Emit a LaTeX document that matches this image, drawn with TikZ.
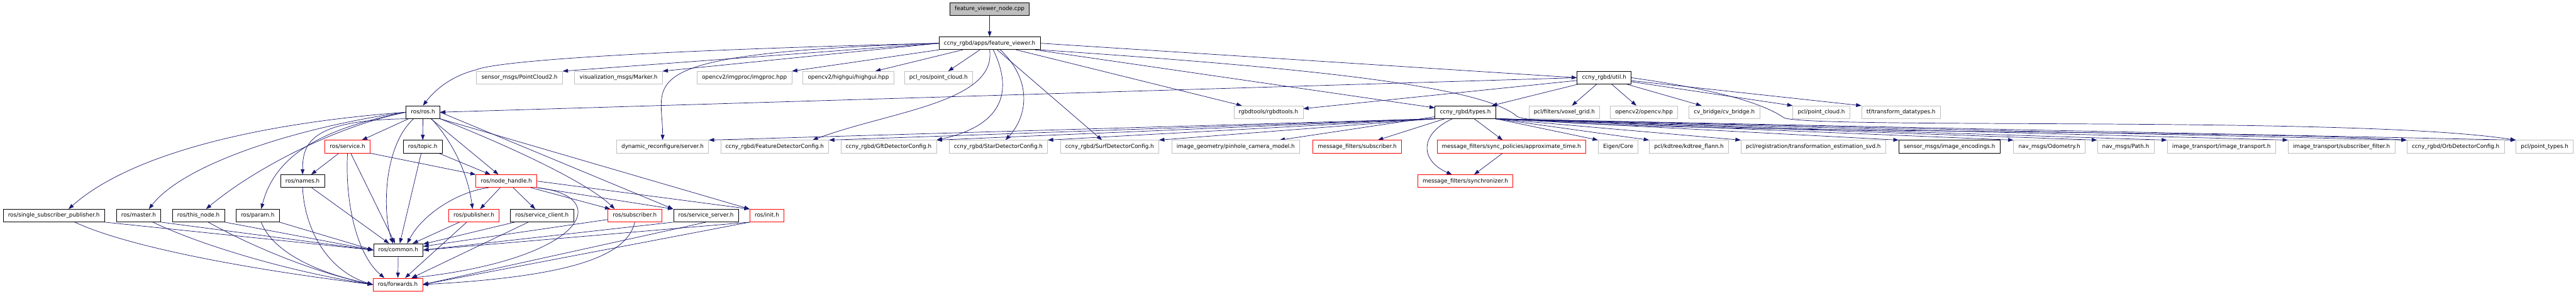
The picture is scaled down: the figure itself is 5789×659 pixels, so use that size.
\documentclass[tikz,border=0pt]{standalone}
\usepackage{fontspec}
\setmainfont{DejaVu Sans}
\usepackage{tikz}
\usetikzlibrary{arrows.meta,calc,backgrounds}

\definecolor{edgeblue}{RGB}{25,25,112}
\definecolor{extgray}{RGB}{191,191,191}
\definecolor{cutred}{RGB}{255,0,0}

\begin{document}
\begin{tikzpicture}[
  x=1pt, y=-1pt,
  box/.style={rectangle, draw, fill=white, line width=1pt, inner xsep=11pt, inner ysep=0pt,
    minimum height=28.5pt, text height=9.3pt, text depth=2.6pt,
    font=\fontsize{12.45}{14}\selectfont},
  srcfile/.style={box, draw=black, fill=extgray},
  hdr/.style={box, draw=black},
  exthdr/.style={box, draw=extgray},
  cuthdr/.style={box, draw=cutred},
  dep/.style={draw=edgeblue, line width=1pt, -{Triangle[length=12pt,width=8.5pt]}, fill=none}
]
  \useasboundingbox (0,0) rectangle (5789,659);

  % row 0 and 1
  \node[srcfile] (root) at (2224,19.7) {feature\_viewer\_node.cpp};
  \node[hdr] (fvh) at (2224,97.1) {ccny\_rgbd/apps/feature\_viewer.h};

  % row 2
  \node[exthdr] (pc2) at (1167.5,174.5) {sensor\_msgs/PointCloud2.h};
  \node[exthdr] (marker) at (1390,174.5) {visualization\_msgs/Marker.h};
  \node[exthdr] (imgproc) at (1673,174.5) {opencv2/imgproc/imgproc.hpp};
  \node[exthdr] (highgui) at (1906.5,174.5) {opencv2/highgui/highgui.hpp};
  \node[exthdr] (pclros) at (2109,174.5) {pcl\_ros/point\_cloud.h};
  \node[hdr] (util) at (3605,174.5) {ccny\_rgbd/util.h};

  % row 3
  \node[hdr] (ros) at (950.5,251.9) {ros/ros.h};
  \node[exthdr] (rgbdtools) at (2850.5,251.9) {rgbdtools/rgbdtools.h};
  \node[hdr] (types) at (3293,251.9) {ccny\_rgbd/types.h};
  \node[exthdr] (voxel) at (3515.5,251.9) {pcl/filters/voxel\_grid.h};
  \node[exthdr] (opencv) at (3694.5,251.9) {opencv2/opencv.hpp};
  \node[exthdr] (cvbridge) at (3875,251.9) {cv\_bridge/cv\_bridge.h};
  \node[exthdr] (pclcloud) at (4093,251.9) {pcl/point\_cloud.h};
  \node[exthdr] (tfdt) at (4272,251.9) {tf/transform\_datatypes.h};

  % row 4
  \node[cuthdr] (service) at (781,329.2) {ros/service.h};
  \node[hdr] (topic) at (950,329.2) {ros/topic.h};
  \node[exthdr] (dynrec) at (1489,329.2) {dynamic\_reconfigure/server.h};
  \node[exthdr] (featcfg) at (1741,329.2) {ccny\_rgbd/FeatureDetectorConfig.h};
  \node[exthdr] (gftcfg) at (1997,329.2) {ccny\_rgbd/GftDetectorConfig.h};
  \node[exthdr] (starcfg) at (2243.5,329.2) {ccny\_rgbd/StarDetectorConfig.h};
  \node[exthdr] (surfcfg) at (2493.5,329.2) {ccny\_rgbd/SurfDetectorConfig.h};
  \node[exthdr] (pinhole) at (2777,329.2) {image\_geometry/pinhole\_camera\_model.h};
  \node[cuthdr] (mfsub) at (3050,329.2) {message\_filters/subscriber.h};
  \node[cuthdr] (approx) at (3396.5,329.2) {message\_filters/sync\_policies/approximate\_time.h};
  \node[exthdr] (eigen) at (3636.5,329.2) {Eigen/Core};
  \node[exthdr] (kdtree) at (3795.5,329.2) {pcl/kdtree/kdtree\_flann.h};
  \node[exthdr] (svd) at (4075,329.2) {pcl/registration/transformation\_estimation\_svd.h};
  \node[hdr] (imgenc) at (4381,329.2) {sensor\_msgs/image\_encodings.h};
  \node[exthdr] (odom) at (4605.5,329.2) {nav\_msgs/Odometry.h};
  \node[exthdr] (navpath) at (4777,329.2) {nav\_msgs/Path.h};
  \node[exthdr] (imgtrans) at (4992,329.2) {image\_transport/image\_transport.h};
  \node[exthdr] (subfilt) at (5262,329.2) {image\_transport/subscriber\_filter.h};
  \node[exthdr] (orbcfg) at (5518.5,329.2) {ccny\_rgbd/OrbDetectorConfig.h};
  \node[exthdr] (pointtypes) at (5718.5,329.2) {pcl/point\_types.h};

  % row 5
  \node[hdr] (names) at (680,406.6) {ros/names.h};
  \node[cuthdr] (nodehandle) at (1138,406.6) {ros/node\_handle.h};
  \node[cuthdr] (sync) at (3293,406.6) {message\_filters/synchronizer.h};

  % row 6
  \node[hdr] (ssp) at (121,484) {ros/single\_subscriber\_publisher.h};
  \node[hdr] (master) at (311.5,484) {ros/master.h};
  \node[hdr] (thisnode) at (446,484) {ros/this\_node.h};
  \node[hdr] (param) at (579,484) {ros/param.h};
  \node[cuthdr] (publisher) at (1065,484) {ros/publisher.h};
  \node[hdr] (srvclient) at (1218,484) {ros/service\_client.h};
  \node[cuthdr] (subscriber) at (1426.5,484) {ros/subscriber.h};
  \node[hdr] (srvserver) at (1586.5,484) {ros/service\_server.h};
  \node[cuthdr] (init) at (1723.5,484) {ros/init.h};

  % rows 7 and 8
  \node[hdr] (common) at (895,561.4) {ros/common.h};
  \node[cuthdr] (forwards) at (894,638.8) {ros/forwards.h};

  \begin{scope}[on background layer]
  \draw[dep] (root) -- (fvh);

  % feature_viewer.h
  \draw[dep] (fvh.west) .. controls (1500,112) and (1120,135) .. (1069,157)
    .. controls (1010,172) and (975,205) .. (ros.north);
  \draw[dep] (fvh.west) -- (pc2.north east);
  \draw[dep] (fvh.west) -- (marker.north east);
  \draw[dep] (fvh.south west) -- (imgproc.north east);
  \draw[dep] (fvh) -- (highgui);
  \draw[dep] (fvh) -- (pclros);
  \draw[dep] (fvh.west) .. controls (1400,120) and (1490,180) .. (dynrec.north);
  \draw[dep] (fvh.south) .. controls (2240,230) and (2000,250) .. ($(featcfg.north)+(85,0)$);
  \draw[dep] ($(fvh.south)+(8,0)$) .. controls (2275,200) and (2260,280) .. (gftcfg.north east);
  \draw[dep] ($(fvh.south)+(24,0)$) .. controls (2320,180) and (2310,260) .. ($(starcfg.north)+(16,0)$);
  \draw[dep] (fvh) -- (surfcfg);
  \draw[dep] (fvh) -- (rgbdtools);
  \draw[dep] (fvh) -- (types);
  \draw[dep] (fvh.east) -- (util.west);
  \draw[dep] (fvh.south east) .. controls (2900,150) and (3330,190) .. (3410,262)
    .. controls (3500,300) and (5000,290) .. (orbcfg.north west);

  % util.h
  \draw[dep] (util.west) -- (ros.east);
  \foreach \t in {rgbdtools,types,voxel,opencv,cvbridge}
    \draw[dep] (util) -- (\t);
  \draw[dep] (util) -- (pclcloud.north west);
  \draw[dep] (util) -- (tfdt.north west);
  \draw[dep] (util.east) .. controls (3850,200) and (3960,230) .. (4010,265)
    .. controls (4100,290) and (5300,260) .. (pointtypes.north west);

  % types.h
  \foreach \t in {dynrec,featcfg,gftcfg,starcfg,surfcfg}
    \draw[dep] (types.south west) -- (\t.north east);
  \draw[dep] (types) -- (pinhole);
  \draw[dep] (types) -- (mfsub);
  \draw[dep] (types) -- (approx);
  \draw[dep] ($(types.south)+(-29,0)$) .. controls (3190,300) and (3190,360) .. ($(sync.north)+(-30,0)$);
  \foreach \t in {eigen,kdtree,svd,imgenc,odom,navpath,imgtrans,subfilt,orbcfg,pointtypes}
    \draw[dep] (types.south east) -- (\t.north west);
  \draw[dep] (approx) -- (sync);

  % ros.h
  \draw[dep] (ros.west) .. controls (600,275) and (300,340) .. ($(ssp.north)+(33,0)$);
  \draw[dep] (ros.west) .. controls (700,280) and (420,360) .. ($(master.north)+(23,0)$);
  \draw[dep] (ros.west) .. controls (750,285) and (570,380) .. ($(thisnode.north)+(17,0)$);
  \draw[dep] (ros.west) .. controls (740,285) and (620,340) .. ($(param.north)+(8,0)$);
  \draw[dep] (ros.south west) .. controls (700,270) and (680,320) .. (names.north);
  \draw[dep] (ros) -- (service);
  \draw[dep] (ros) -- (topic);
  \draw[dep] ($(ros.south)+(-21,0)$) .. controls (860,330) and (860,480) .. ($(common.north)+(-12,0)$);
  \draw[dep] ($(ros.south)+(19,0)$) .. controls (1010,310) and (1050,380) .. ($(publisher.north)+(-3,0)$);
  \draw[dep] (ros) -- (nodehandle);
  \draw[dep] (ros.south east) .. controls (1150,330) and (1320,410) .. ($(subscriber.north)+(-45,0)$);
  \draw[dep] (ros.east) -- (srvserver.north west);
  \draw[dep] (ros.south east) -- (init.north west);

  % ros/service.h and ros/topic.h
  \draw[dep] (service) -- (names);
  \draw[dep] (service.south east) -- (nodehandle.north west);
  \draw[dep] (service) -- (common);
  \draw[dep] (service.south) .. controls (775,450) and (800,570) .. ($(forwards.north west)+(26,0)$);
  \draw[dep] (topic) -- (common);
  \draw[dep] (topic) -- (nodehandle);

  % ros/node_handle.h
  \draw[dep] ($(nodehandle.south west)+(29,0)$) .. controls (1030,430) and (950,480) .. ($(common.north)+(20,0)$);
  \draw[dep] (nodehandle) -- (publisher);
  \draw[dep] (nodehandle) -- (srvclient);
  \draw[dep] (nodehandle) -- (subscriber);
  \draw[dep] (nodehandle.south east) -- (srvserver.north west);
  \draw[dep] (nodehandle.east) -- (init.north west);
  \draw[dep] (nodehandle.south east) .. controls (1380,440) and (1320,580) .. ($(forwards.north east)+(-25,0)$);

  % row 6 into common.h / forwards.h
  \draw[dep] (publisher) -- (common);
  \draw[dep] (publisher) -- (forwards);
  \draw[dep] (srvclient) -- (common);
  \draw[dep] (srvclient) -- (forwards);
  \draw[dep] (subscriber) -- (common);
  \draw[dep] (subscriber.south) .. controls (1410,570) and (1300,620) .. (forwards.east);
  \draw[dep] (srvserver.south west) -- (common.east);
  \draw[dep] (srvserver.south) -- (forwards.east);
  \draw[dep] (init.south west) -- (common.east);
  \draw[dep] (init.south west) -- (forwards.east);

  % ros/names.h and the left group
  \draw[dep] (names) -- (common);
  \draw[dep] (names.south) .. controls (685,520) and (740,610) .. (forwards.west);
  \foreach \s in {ssp,master,thisnode,param}
    \draw[dep] (\s.south east) -- (common.west);
  \draw[dep] ($(ssp.south)+(47,0)$) .. controls (300,560) and (600,610) .. (forwards.west);
  \draw[dep] ($(master.south)+(32,0)$) .. controls (450,550) and (650,610) .. (forwards.west);
  \draw[dep] ($(thisnode.south)+(22,0)$) .. controls (560,550) and (700,610) .. (forwards.west);
  \draw[dep] ($(param.south)+(8,0)$) .. controls (610,560) and (700,610) .. (forwards.west);

  \draw[dep] (common) -- (forwards);
  \end{scope}
\end{tikzpicture}
\end{document}
